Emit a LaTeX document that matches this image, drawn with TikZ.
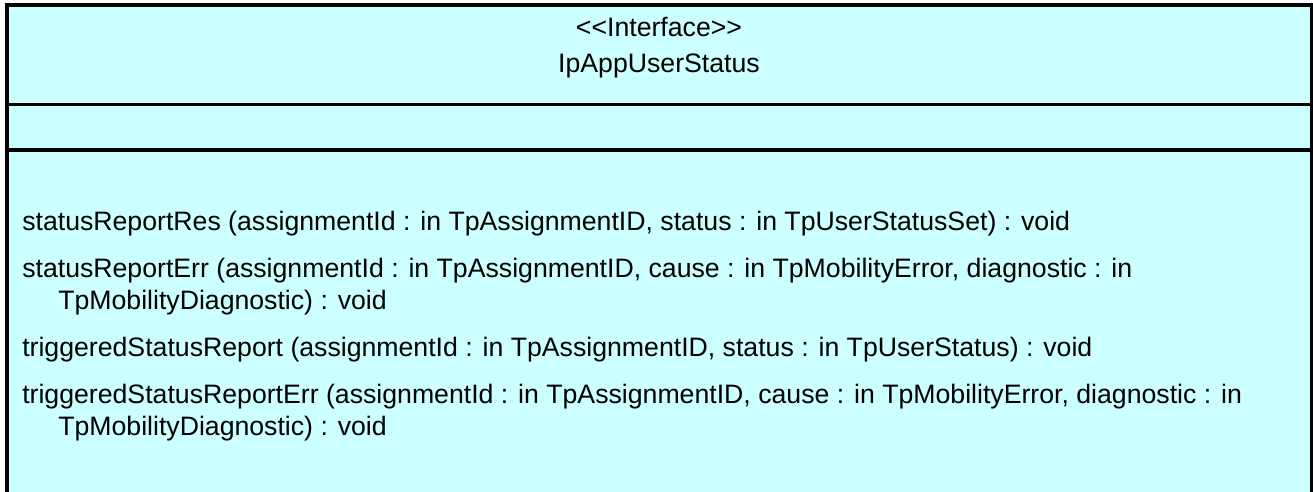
\documentclass[tikz,border=0pt]{standalone}
\usepackage{fontspec}
\setmainfont{Liberation Sans}
\definecolor{classfill}{HTML}{CCFFFF}
\begin{document}
\begin{tikzpicture}[x=0.75pt,y=-0.75pt,
  border/.style={line width=3pt,line cap=rect},
  divider/.style={line width=2.6pt},
  txt/.style={font=\fontsize{20}{24}\selectfont,inner sep=0pt,anchor=base west},
  ctr/.style={font=\fontsize{20}{24}\selectfont,inner sep=0pt,anchor=base}]
\useasboundingbox (0,0) rectangle (1313,492);
\clip (0,0) rectangle (1313,492);
\fill[classfill] (7,5) rectangle (1311.5,530);
\draw[border] (7,530) -- (7,5) -- (1311.5,5) -- (1311.5,530);
\draw[divider] (7,104.5) -- (1311.5,104.5);
\draw[divider] (7,150) -- (1311.5,150);
\node[ctr] (stereo) at (659,37) {{<}{<}Interface{>}{>}};
\node[ctr] (cname) at (659,73) {IpAppUserStatus};
\node[txt] (op1) at (22,230) {statusReportRes (assignmentId : in TpAssignmentID, status : in TpUserStatusSet) : void};
\node[txt] (op2) at (22,277) {statusReportErr (assignmentId : in TpAssignmentID, cause : in TpMobilityError, diagnostic : in};
\node[txt] (op2b) at (58,309) {TpMobilityDiagnostic) : void};
\node[txt] (op3) at (22,356) {triggeredStatusReport (assignmentId : in TpAssignmentID, status : in TpUserStatus) : void};
\node[txt] (op4) at (22,403) {triggeredStatusReportErr (assignmentId : in TpAssignmentID, cause : in TpMobilityError, diagnostic : in};
\node[txt] (op4b) at (58,435) {TpMobilityDiagnostic) : void};
\end{tikzpicture}
\end{document}
